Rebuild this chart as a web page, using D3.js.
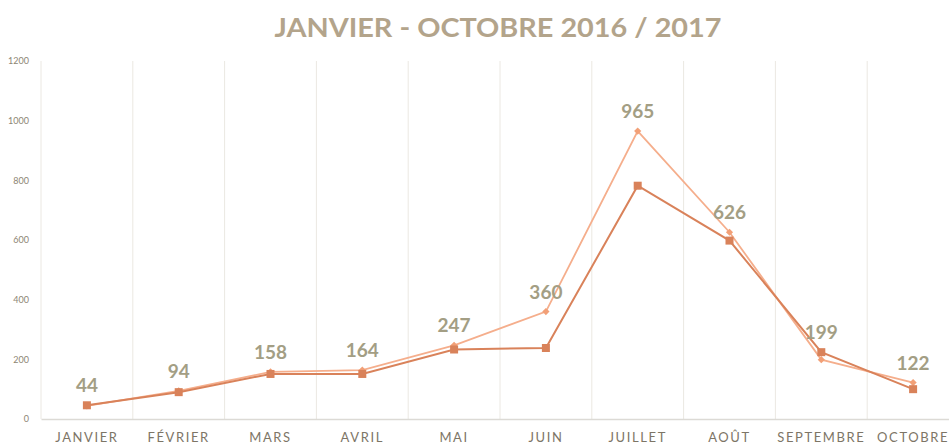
<!DOCTYPE html>
<html>
<head>
<meta charset="utf-8">
<script src="https://cdn.jsdelivr.net/npm/d3@7"></script>
<style>
  body { margin: 0; background: #fff; }
  text { font-family: Lato, "Open Sans", sans-serif; }
</style>
</head>
<body>
<div id="chart"></div>
<script>
// data
const months = ["JANVIER", "FÉVRIER", "MARS", "AVRIL", "MAI", "JUIN", "JUILLET", "AOÛT", "SEPTEMBRE", "OCTOBRE"]
const serie2017 = [44, 94, 158, 164, 247, 360, 965, 626, 199, 122]
const serie2016 = [46, 90, 151, 151, 233, 238, 782, 598, 224, 100]
const yTicks = [0, 200, 400, 600, 800, 1000, 1200]

const W = 949, H = 444
const margin = {top: 61, left: 41, bottom: 25}

const svg = d3.select("#chart")
  .append("svg")
  .attr("width", W)
  .attr("height", H)

// scales
const x = d3.scaleBand()
  .domain(months)
  .range([margin.left, margin.left + 10 * 91.8])
  .padding(0)

const y = d3.scaleLinear()
  .domain([0, 1200])
  .range([H - margin.bottom, margin.top])

// title
svg.append("text")
  .attr("x", 498)
  .attr("y", 37)
  .attr("text-anchor", "middle")
  .attr("fill", "#b3a48b")
  .style("font-size", "26px")
  .style("font-weight", "700")
  .attr("textLength", 447)
  .attr("lengthAdjust", "spacingAndGlyphs")
  .text("JANVIER - OCTOBRE 2016 / 2017")

// vertical grid lines
svg.append("g")
  .selectAll("line")
  .data(months)
  .join("line")
    .attr("x1", d => x(d))
    .attr("x2", d => x(d))
    .attr("y1", y(1200))
    .attr("y2", y(0))
    .attr("stroke", "#ebe8e2")
    .attr("stroke-width", 1)

// y axis labels
const yAxis = svg.append("g")
  .attr("transform", `translate(${margin.left - 9},0)`)
  .call(d3.axisLeft(y).tickValues(yTicks).tickSize(0).tickFormat(d3.format("d")))
yAxis.select(".domain").remove()
yAxis.selectAll("text")
  .attr("fill", "#8d8574")
  .style("font-size", "9px")

// x axis
const xAxis = svg.append("g")
  .attr("transform", `translate(0,${y(0)})`)
  .call(d3.axisBottom(x).tickSize(0))
xAxis.select(".domain")
  .attr("stroke", "#dcdad5")
  .attr("stroke-width", 1.5)
xAxis.selectAll("text")
  .attr("y", 23)
  .attr("dy", 0)
  .attr("fill", "#7d7566")
  .style("font-size", "13px")
  .style("letter-spacing", "1.6px")

const cx = d => x(d) + x.bandwidth() / 2

const line = d3.line()
  .x((d, i) => cx(months[i]))
  .y(d => y(d))

// 2017 series (light, diamonds)
svg.append("path")
  .datum(serie2017)
  .attr("fill", "none")
  .attr("stroke", "#f5ae8c")
  .attr("stroke-width", 1.8)
  .attr("d", line)

svg.append("g")
  .selectAll("path")
  .data(serie2017)
  .join("path")
    .attr("d", d3.symbol(d3.symbolSquare, 26))
    .attr("transform", (d, i) => `translate(${cx(months[i])},${y(d)}) rotate(45)`)
    .attr("fill", "#f2a077")

// 2016 series (darker, squares)
svg.append("path")
  .datum(serie2016)
  .attr("fill", "none")
  .attr("stroke", "#d9825a")
  .attr("stroke-width", 2)
  .attr("d", line)

svg.append("g")
  .selectAll("rect")
  .data(serie2016)
  .join("rect")
    .attr("x", (d, i) => cx(months[i]) - 4)
    .attr("y", d => y(d) - 4)
    .attr("width", 8)
    .attr("height", 8)
    .attr("fill", "#d9825a")

// value labels
svg.append("g")
  .selectAll("text")
  .data(serie2017)
  .join("text")
    .attr("x", (d, i) => cx(months[i]))
    .attr("y", (d, i) => y(Math.max(d, serie2016[i])) - 13)
    .attr("text-anchor", "middle")
    .attr("fill", "#a39e84")
    .style("font-size", "19px")
    .style("font-weight", "700")
    .text(d => d)
</script>
</body>
</html>
